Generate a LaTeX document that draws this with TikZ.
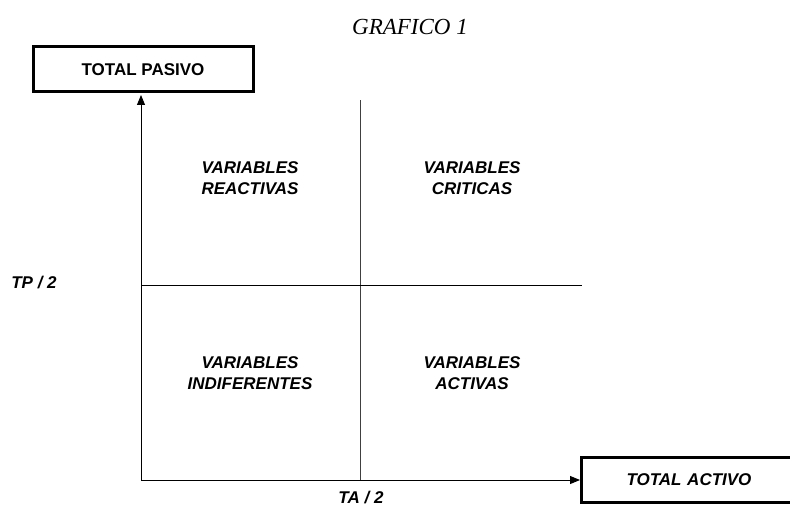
\documentclass[tikz,border=0pt]{standalone}
\usepackage{fontspec}
\setmainfont{Liberation Serif}
\setsansfont{Liberation Sans}
\usetikzlibrary{arrows.meta}
\begin{document}
\begin{tikzpicture}[x=1pt,y=-1pt,
  axis/.style={line width=1pt,-{Triangle[length=10pt,width=8pt]}},
  grid/.style={line width=0.9pt},
  lbl/.style={font=\sffamily\bfseries\itshape\fontsize{17}{21}\selectfont,align=center,inner sep=0pt},
  boxed/.style={draw,line width=3pt,font=\sffamily\bfseries\fontsize{17}{21}\selectfont,inner sep=0pt}
]
\useasboundingbox (0,0) rectangle (790,508);
\node[font=\rmfamily\itshape\fontsize{23}{25}\selectfont] (title) at (410,27) {GRAFICO 1};
\node[boxed,minimum width=220pt,minimum height=45pt] (tp) at (143,69.5) {TOTAL PASIVO};
\node[boxed,minimum width=230pt,minimum height=45pt,font=\sffamily\bfseries\itshape\fontsize{17}{21}\selectfont,anchor=west,text width=220pt,align=left] (ta) at (580,480) {\hspace*{40pt}TOTAL ACTIVO};
\coordinate (o) at (141,480);
\coordinate (tpt) at (141,95);
\coordinate (mvt) at (360,100);
\coordinate (mvb) at (360,480);
\coordinate (mhl) at (141,285);
\coordinate (mhr) at (582,285);
\draw[axis] (o) -- (tpt);
\draw[axis] (o) -- (ta.west);
\draw[grid,black!75] (mvb) -- (mvt);
\draw[grid] (mhl) -- (mhr);
\node[lbl] (tp2) at (34,283) {TP / 2};
\node[lbl] (ta2) at (361,498) {TA / 2};
\node[lbl] (q1) at (250,178.5) {VARIABLES\\REACTIVAS};
\node[lbl] (q2) at (472,178.5) {VARIABLES\\CRITICAS};
\node[lbl] (q3) at (250,373) {VARIABLES\\INDIFERENTES};
\node[lbl] (q4) at (472,373) {VARIABLES\\ACTIVAS};
\end{tikzpicture}
\end{document}
